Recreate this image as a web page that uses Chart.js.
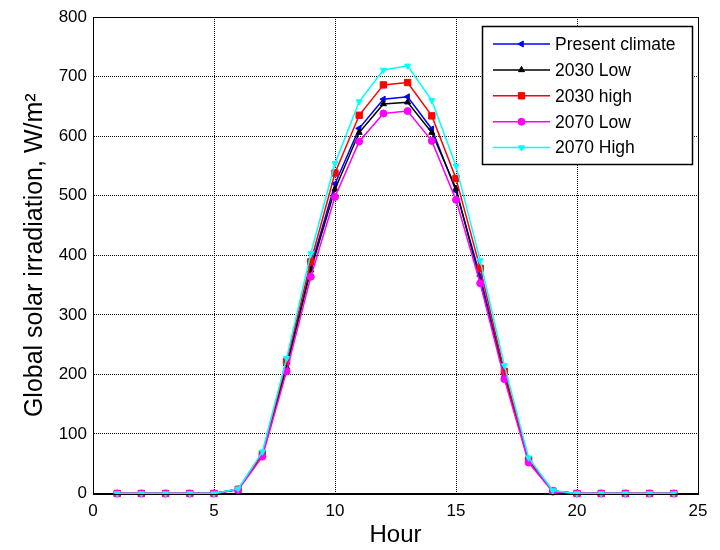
<!DOCTYPE html>
<html>
<head>
<meta charset="utf-8">
<script src="https://cdn.jsdelivr.net/npm/chart.js@4/dist/chart.umd.min.js"></script>
<style>
  html, body { margin: 0; padding: 0; background: #fff; }
  #wrap { width: 720px; height: 550px; }
</style>
</head>
<body>
<div id="wrap"><canvas id="c" width="720" height="550"></canvas></div>
<script>
const hours = [1,2,3,4,5,6,7,8,9,10,11,12,13,14,15,16,17,18,19,20,21,22,23,24];
const presentClimate = [0,0,0,0,0,7,66,215,380,520,613,662,666,612,508,365,200,55,4,0,0,0,0,0];
const low2030  = [0,0,0,0,0,7,65,212,375,511,606,654,657,606,512,356,198,54,4,0,0,0,0,0];
const high2030 = [0,0,0,0,0,7,67,222,389,538,635,686,690,634,529,378,205,57,4,0,0,0,0,0];
const low2070  = [0,0,0,0,0,6,62,205,364,498,591,638,642,592,493,353,192,52,3,0,0,0,0,0];
const high2070 = [0,0,0,0,0,8,70,227,403,554,658,711,718,660,550,391,215,60,5,0,0,0,0,0];
const seriesNames = ['Present climate','2030 Low','2030 high','2070 Low','2070 High'];
const xTicks = [0,5,10,15,20,25];
const yTicks = [0,100,200,300,400,500,600,700,800];

const FONT = "'Liberation Sans', Arial, sans-serif";

function pts(vals){ return hours.map((h,i)=>({x:h, y:vals[i]})); }

const styles = [
  {color:'#0000ff', pointStyle:'triangle', rotation:270, radius:3.5},
  {color:'#000000', pointStyle:'triangle', rotation:0, radius:3.5},
  {color:'#ff0000', pointStyle:'rect', rotation:0, radius:4.5},
  {color:'#ff00ff', pointStyle:'circle', rotation:0, radius:3.5},
  {color:'#00ffff', pointStyle:'triangle', rotation:180, radius:3.5}
];
const allSeries = [presentClimate, low2030, high2030, low2070, high2070];

const datasets = allSeries.map((vals, i) => ({
  label: seriesNames[i],
  data: pts(vals),
  borderColor: styles[i].color,
  backgroundColor: styles[i].color,
  pointBackgroundColor: styles[i].color,
  pointBorderColor: styles[i].color,
  pointStyle: styles[i].pointStyle,
  pointRotation: styles[i].rotation,
  pointRadius: styles[i].radius,
  pointBorderWidth: 1,
  borderWidth: 1.5,
  tension: 0,
  clip: false,
  order: 5 - i
}));

function drawMarker(ctx, style, x, y, r){
  ctx.save();
  ctx.fillStyle = style.color;
  ctx.strokeStyle = style.color;
  ctx.lineWidth = 1;
  ctx.translate(x, y);
  ctx.rotate(style.rotation * Math.PI / 180);
  ctx.beginPath();
  if (style.pointStyle === 'triangle') {
    for (let k = 0; k < 3; k++) {
      const a = -Math.PI/2 + k * 2*Math.PI/3;
      const px = r*Math.cos(a), py = r*Math.sin(a);
      if (k === 0) ctx.moveTo(px, py); else ctx.lineTo(px, py);
    }
    ctx.closePath();
  } else if (style.pointStyle === 'rect') {
    const s = r * Math.SQRT1_2;
    ctx.rect(-s, -s, 2*s, 2*s);
  } else {
    ctx.arc(0, 0, r, 0, Math.PI*2);
  }
  ctx.fill();
  ctx.stroke();
  ctx.restore();
}

const boxAndLegend = {
  id: 'boxAndLegend',
  afterDraw(chart){
    const {ctx, chartArea: a} = chart;
    ctx.save();
    ctx.strokeStyle = '#000';
    ctx.lineWidth = 1;
    ctx.strokeRect(Math.round(a.left)+0.5, Math.round(a.top)+0.5, Math.round(a.right - a.left), Math.round(a.bottom - a.top));
    // legend
    const lx = 482, ly = 26, lw = 210, lh = 138;
    ctx.fillStyle = '#fff';
    ctx.fillRect(lx, ly, lw, lh);
    ctx.lineWidth = 1.5;
    ctx.strokeRect(lx+0.5, ly+0.5, lw, lh);
    ctx.font = '17.5px ' + FONT;
    ctx.textBaseline = 'middle';
    ctx.textAlign = 'left';
    for (let i = 0; i < seriesNames.length; i++) {
      const y = 44 + i * 25.9;
      ctx.strokeStyle = styles[i].color;
      ctx.lineWidth = 1.5;
      ctx.beginPath();
      ctx.moveTo(493, y); ctx.lineTo(550, y);
      ctx.stroke();
      drawMarker(ctx, styles[i], 521.5, y, styles[i].radius);
      ctx.fillStyle = '#000';
      ctx.fillText(seriesNames[i], 555, y + 1);
    }
    ctx.restore();
  }
};

new Chart(document.getElementById('c'), {
  type: 'line',
  data: { datasets },
  plugins: [boxAndLegend],
  options: {
    responsive: false,
    animation: false,
    devicePixelRatio: 1,
    layout: { padding: { top: 17, right: 22, left: 0, bottom: 0 } },
    plugins: { legend: { display: false }, tooltip: { enabled: false } },
    scales: {
      x: {
        type: 'linear', min: 0, max: 25,
        afterBuildTicks(scale){ scale.ticks = xTicks.map(v => ({value: v})); },
        afterFit(scale){ scale.height = 56.5; },
        grid: { color: '#000', lineWidth: 1, drawTicks: false },
        border: { display: true, color: '#000', width: 1, dash: [1, 1] },
        ticks: { color: '#000', font: { family: FONT, size: 17 }, padding: 8, maxRotation: 0 },
        title: { display: true, text: 'Hour', color: '#000', font: { family: FONT, size: 24 }, padding: { top: 0, bottom: 0 } }
      },
      y: {
        type: 'linear', min: 0, max: 800,
        afterBuildTicks(scale){ scale.ticks = yTicks.map(v => ({value: v})); },
        afterFit(scale){ scale.width = 93; },
        grid: { color: '#000', lineWidth: 1, drawTicks: false },
        border: { display: true, color: '#000', width: 1, dash: [1, 1] },
        ticks: { color: '#000', font: { family: FONT, size: 17 }, padding: 6 },
        title: { display: true, text: 'Global solar irradiation, W/m²', color: '#000', font: { family: FONT, size: 25 }, padding: { top: 20, bottom: 0 } }
      }
    }
  }
});
</script>
</body>
</html>
